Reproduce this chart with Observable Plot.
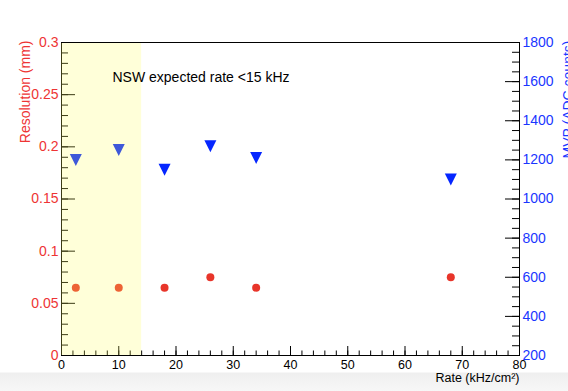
<!DOCTYPE html>
<html><head><meta charset="utf-8">
<script src="https://cdn.jsdelivr.net/npm/d3@7"></script>
<script src="https://cdn.jsdelivr.net/npm/@observablehq/plot@0.6"></script>
<style>html,body{margin:0;padding:0;background:#fff;overflow:hidden}</style>
</head><body><div id="chart"></div>
<script>
// ---- data ----
const rate = [2.5, 10, 18, 26, 34, 68];               // kHz/cm2
const resolution = [0.065, 0.065, 0.065, 0.075, 0.065, 0.075]; // mm
const mvp = [1200, 1250, 1150, 1270, 1210, 1100];     // ADC counts
const xTicks = [0, 10, 20, 30, 40, 50, 60, 70, 80];
const xMinor = d3.range(0, 80.001, 2);
const resTicks = [0, 0.05, 0.1, 0.15, 0.2, 0.25, 0.3];
const resMinor = d3.range(0, 0.3001, 0.01);
const mvpTicks = [200, 400, 600, 800, 1000, 1200, 1400, 1600, 1800];
const mvpMinor = d3.range(200, 1800.1, 50);
const nswBand = [0, 14];
const xDomain = [0, 80];
const resDomain = [0, 0.3];
const mvpDomain = [200, 1800];
const annotation = "NSW expected rate <15 kHz";
const xTitle = "Rate (kHz/cm²)";
const leftTitle = "Resolution (mm)";
const rightTitle = "MVP (ADC counts)";

// map MVP onto the left (resolution) scale, and back
const mvpToRes = v => resDomain[0] + (v - mvpDomain[0]) / (mvpDomain[1] - mvpDomain[0]) * (resDomain[1] - resDomain[0]);
const resToMvp = r => Math.round(mvpDomain[0] + (r - resDomain[0]) / (resDomain[1] - resDomain[0]) * (mvpDomain[1] - mvpDomain[0]));

// ---- layout ----
const W = 568, H = 391, mL = 61, mR = 49, mT = 42, mB = 36;
const iw = W - mL - mR, ih = H - mT - mB;
const RED = "#ee3434", BLUE = "#1a36ff";

const triangleDown = {
  draw(ctx, size) {
    const r = Math.sqrt(size / Math.PI) * 1.25;
    ctx.moveTo(-r, -r);
    ctx.lineTo(r, -r);
    ctx.lineTo(0, r);
    ctx.closePath();
  }
};

const chart = Plot.plot({
  width: W, height: H,
  marginLeft: mL, marginRight: mR, marginTop: mT, marginBottom: mB,
  x: {domain: xDomain},
  y: {domain: resDomain},
  style: {
    fontFamily: "'Liberation Sans', Arial, Helvetica, sans-serif",
    background: "linear-gradient(to bottom, #ffffff 0px, #ffffff 372px, #efefef 373px, #f7f7f7 391px)",
    overflow: "visible"
  },
  marks: [
    // inward ticks
    Plot.tickY(resMinor, {y: d => d, insetRight: iw - 7, stroke: "#000"}),
    Plot.tickY(resTicks, {y: d => d, insetRight: iw - 14, stroke: "#000"}),
    Plot.tickY(mvpMinor, {y: d => mvpToRes(d), insetLeft: iw - 7, stroke: "#000"}),
    Plot.tickY(mvpTicks, {y: d => mvpToRes(d), insetLeft: iw - 14, stroke: "#000"}),
    Plot.tickX(xMinor, {x: d => d, insetTop: ih - 4.5, stroke: "#000"}),
    Plot.tickX(xTicks, {x: d => d, insetTop: ih - 9, stroke: "#000"}),
    Plot.frame({stroke: "#000"}),
    // data
    Plot.dot(rate, {x: d => d, y: (d, i) => resolution[i], r: 4, fill: "#e8352a", stroke: null}),
    Plot.dot(rate, {x: d => d, y: (d, i) => mvpToRes(mvp[i]), symbol: triangleDown, r: 4.8, fill: "#0526ff", stroke: null}),
    // NSW band (semi-transparent, drawn over the markers)
    Plot.rect([nswBand], {x1: d => d[0], x2: d => d[1], fill: "#ffff5a", fillOpacity: 0.23, insetTop: 1}),
    // axes labels
    Plot.axisX(xTicks, {anchor: "bottom", tickSize: 0, tickPadding: 5, tickFormat: d => String(d), fontSize: 12.5, fill: "#000", label: null}),
    Plot.axisY(resTicks, {anchor: "left", tickSize: 0, tickPadding: 3, tickFormat: d => String(d), fontSize: 14, fill: RED, label: null}),
    Plot.axisY(mvpTicks.map(mvpToRes), {anchor: "right", tickSize: 0, tickPadding: 3, tickFormat: d => String(resToMvp(d)), fontSize: 14, fill: BLUE, label: null}),
    // titles
    Plot.text([leftTitle], {frameAnchor: "top-left", rotate: -90, textAnchor: "end", dx: -41, dy: -2, fill: RED, fontSize: 14}),
    Plot.text([rightTitle], {frameAnchor: "top-right", rotate: -90, textAnchor: "end", dx: 44, dy: -2, fill: BLUE, fontSize: 14}),
    Plot.text([xTitle], {frameAnchor: "bottom-right", textAnchor: "end", dy: 26, fill: "#000", fontSize: 12.5}),
    Plot.text([annotation], {frameAnchor: "top-left", textAnchor: "start", dx: 51, dy: 30, fill: "#000", fontSize: 14})
  ]
});
document.getElementById("chart").appendChild(chart);
</script>
</body></html>
